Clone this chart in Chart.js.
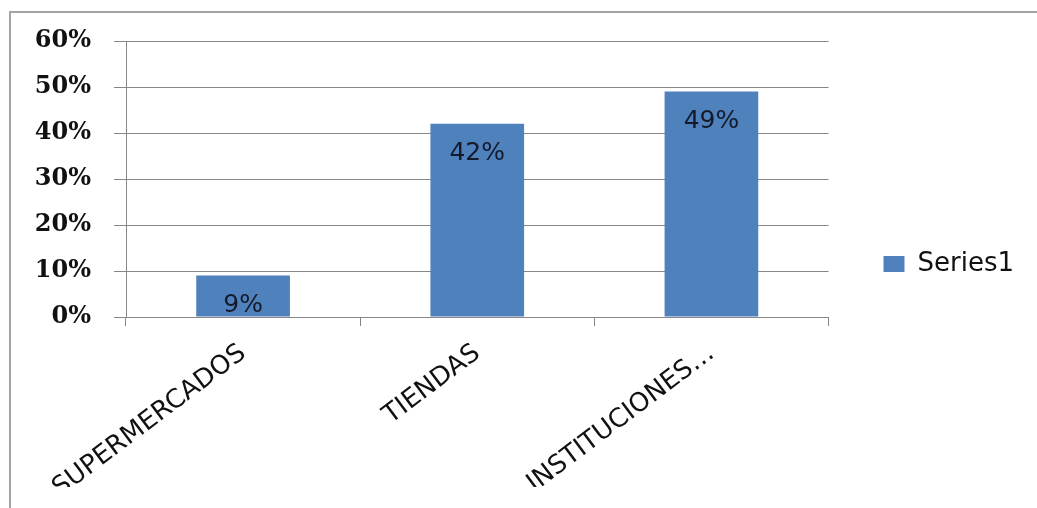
<!DOCTYPE html>
<html>
<head>
<meta charset="utf-8">
<script src="https://cdn.jsdelivr.net/npm/chart.js@4/dist/chart.umd.min.js"></script>
<style>
    html, body { margin: 0; padding: 0; background: #fff; }
    #wrap { position: relative; width: 1037px; height: 508px; overflow: hidden; }
    #frame {
        position: absolute; left: 9px; top: 11px; width: 1100px; height: 600px;
        border-top: 2px solid #a3a3a3; border-left: 2px solid #a3a3a3;
    }
    #chart { position: absolute; left: 0; top: 0; }
</style>
</head>
<body>
<div id="wrap">
    <div id="frame"></div>
    <canvas id="chart" width="1037" height="508"></canvas>
</div>
<script>
// Chart data
var categories = ['SUPERMERCADOS', 'TIENDAS', 'INSTITUCIONES\u2026'];
var seriesName = 'Series1';
var seriesValues = [9, 42, 49];
var yTicks = [0, 10, 20, 30, 40, 50, 60];

var barColor = '#4f81bd';
var lineColor = '#878787';

Chart.defaults.font.family = "'DejaVu Sans', sans-serif";
Chart.defaults.color = '#111';

// Writes the percentage inside the top of each bar
var valueLabels = {
    id: 'valueLabels',
    afterDatasetsDraw: function (chart) {
        var ctx = chart.ctx;
        var meta = chart.getDatasetMeta(0);
        var data = chart.data.datasets[0].data;
        ctx.save();
        ctx.font = "25px 'DejaVu Sans', sans-serif";
        ctx.fillStyle = '#151a2a';
        ctx.textAlign = 'center';
        ctx.textBaseline = 'middle';
        meta.data.forEach(function (bar, i) {
            ctx.fillText(data[i] + '%', bar.x, bar.y + 30);
        });
        ctx.restore();
    }
};

var ctx = document.getElementById('chart');
new Chart(ctx, {
    type: 'bar',
    data: {
        labels: categories,
        datasets: [{
            label: seriesName,
            data: seriesValues,
            backgroundColor: barColor,
            borderWidth: 0,
            barPercentage: 0.4,
            categoryPercentage: 1
        }]
    },
    options: {
        responsive: false,
        animation: false,
        layout: {
            padding: { top: 41, bottom: 21, left: 0, right: 13 }
        },
        scales: {
            x: {
                grid: {
                    drawOnChartArea: false,
                    drawTicks: true,
                    tickLength: 9,
                    offset: true,
                    color: lineColor
                },
                border: { display: true, color: lineColor },
                ticks: {
                    minRotation: 37,
                    maxRotation: 37,
                    autoSkip: false,
                    padding: 12,
                    color: '#111',
                    font: { size: 26 }
                },
                afterFit: function (scale) {
                    scale.height = 170;
                }
            },
            y: {
                min: yTicks[0],
                max: yTicks[yTicks.length - 1],
                afterBuildTicks: function (scale) {
                    scale.ticks = yTicks.map(function (v) { return { value: v }; });
                },
                grid: {
                    color: lineColor,
                    tickLength: 12
                },
                border: { display: true, color: lineColor },
                ticks: {
                    padding: 23,
                    color: '#111',
                    font: { family: "'DejaVu Serif', serif", size: 24, weight: 'bold' },
                    callback: function (value) { return value + '%'; }
                },
                afterFit: function (scale) {
                    scale.width = 126;
                }
            }
        },
        plugins: {
            legend: {
                position: 'right',
                labels: {
                    boxWidth: 21,
                    boxHeight: 16,
                    padding: 55,
                    color: '#111',
                    font: { size: 26 }
                }
            },
            tooltip: { enabled: false }
        }
    },
    plugins: [valueLabels]
});
</script>
</body>
</html>
